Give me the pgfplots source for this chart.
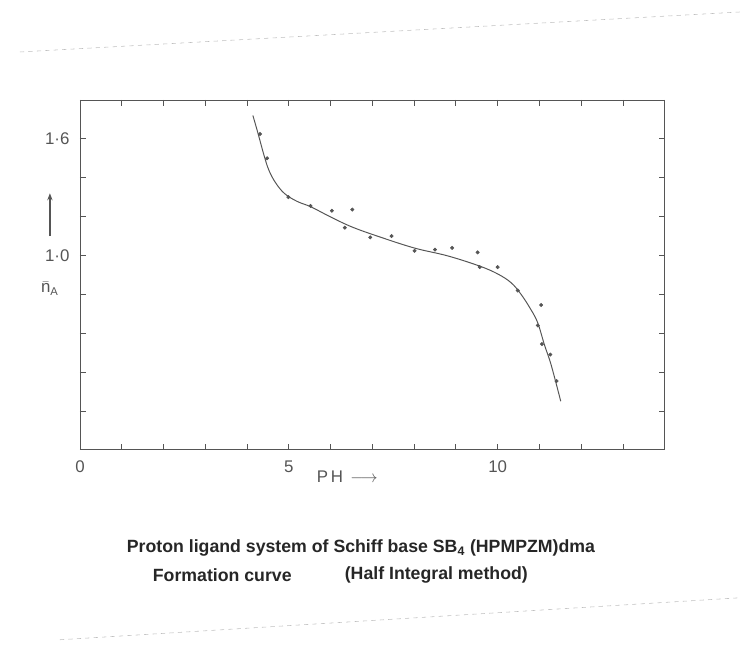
\documentclass[border=0pt]{standalone}
\usepackage{fontspec}
\setmainfont{Liberation Sans}
\usepackage{pgfplots}
\pgfplotsset{compat=1.18}
\usetikzlibrary{arrows.meta}
\definecolor{ink}{RGB}{85,85,85}

\begin{document}
\begin{tikzpicture}
  % page of the scan, 740 x 660 px at 0.025 cm per px
  \path (0,0) rectangle (18.5cm,16.5cm);
  % faint scan edges
  \draw[black!25, dashed] (0.5cm,15.2cm) -- (18.5cm,16.2cm);
  \draw[black!25, dashed] (1.5cm,0.5cm) -- (18.5cm,1.55cm);

  \begin{axis}[
    at={(2cm,5.25cm)}, anchor=south west,
    scale only axis, width=14.625cm, height=8.75cm,
    xmin=0, xmax=14, ymin=0, ymax=1.8,
    axis line style={ink, line width=0.6pt},
    tick style={ink, line width=0.6pt},
    tick align=inside, major tick length=0.15cm,
    xtick={0,1,...,14},
    xticklabels={0,,,,,5,,,,,10,,,,},
    ytick={0,0.2,0.4,0.6,0.8,1.0,1.2,1.4,1.6,1.8},
    yticklabels={,,,,,{1·0},,,{1·6},},
    xticklabel style={font=\large, text=ink, yshift=-4pt},
    yticklabel style={font=\large, text=ink, xshift=-4pt},
    clip=false,
  ]
    % formation curve (drawn by hand in the original)
    \addplot[ink, line width=0.7pt, smooth, tension=0.6] coordinates {
      (4.14,1.72) (4.26,1.63) (4.40,1.52) (4.52,1.44) (4.68,1.375)
      (4.90,1.318) (5.20,1.278) (5.53,1.25) (6.01,1.197) (6.53,1.145)
      (7.21,1.093) (8.01,1.038) (8.80,0.998) (9.56,0.946) (10.0,0.905)
      (10.32,0.86) (10.56,0.80) (10.80,0.72) (10.96,0.653) (11.12,0.54)
      (11.28,0.437) (11.51,0.25)
    };
    % experimental points
    \addplot[only marks, mark=*, mark size=1.2pt, ink] coordinates {
      (4.31,1.625) (4.48,1.50) (4.99,1.30) (5.52,1.255) (6.03,1.23)
      (6.52,1.236) (6.34,1.143) (6.95,1.093) (7.46,1.10) (8.01,1.024)
      (8.50,1.03) (8.91,1.039) (9.52,1.016) (9.57,0.94) (10.0,0.94)
      (10.48,0.82) (11.04,0.745) (10.96,0.64) (11.06,0.544) (11.26,0.49)
      (11.41,0.354)
    };
    % axis titles
    \draw[ink, line width=0.9pt, -{Stealth[length=5pt]}]
      (axis cs:-0.72,1.10) -- (axis cs:-0.72,1.32);
    \node[text=ink, font=\large] at (axis cs:-0.72,0.83)
      {$\bar{\hbox{n}}$\textsubscript{A}};
    \node[text=ink, font=\large, anchor=west] at (axis cs:5.55,-0.14)
      {P\,H\, $\longrightarrow$};
  \end{axis}

  % caption
  \node[font=\fontsize{12.6}{15}\selectfont\bfseries, text=black!85, anchor=west]
    at (3.05cm,2.8cm)
    {Proton ligand system of Schiff base SB\textsubscript{4} (HPMPZM)dma};
  \node[font=\fontsize{12.6}{15}\selectfont\bfseries, text=black!85, anchor=west]
    at (3.7cm,2.125cm) {Formation curve};
  \node[font=\fontsize{12.6}{15}\selectfont\bfseries, text=black!85, anchor=west]
    at (8.5cm,2.125cm) {(Half Integral method)};
\end{tikzpicture}
\end{document}
